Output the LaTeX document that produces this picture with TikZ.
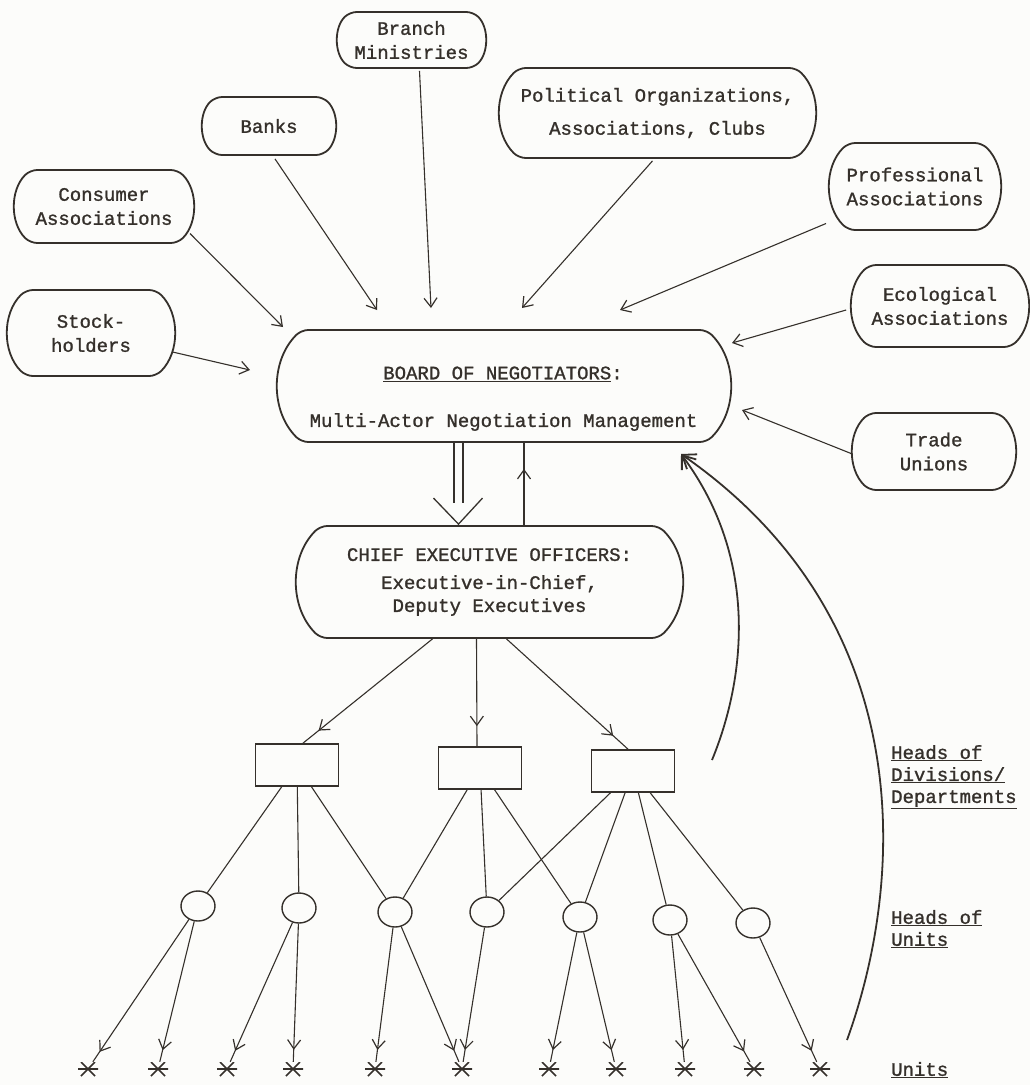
\documentclass[tikz,border=0pt]{standalone}
\usepackage{fontspec}
\setmonofont[FakeBold=1.2]{Liberation Mono}
\usetikzlibrary{shapes.misc,shapes.geometric,arrows.meta,decorations.markings,calc}
\definecolor{ink}{HTML}{35302B}
\definecolor{paper}{HTML}{FCFCFA}
\begin{document}
\begin{tikzpicture}[x=1pt,y=-1pt,
  every node/.style={text=ink},
  tw/.style={font=\ttfamily\fontsize{19}{24}\selectfont, align=center},
  obox/.style={tw, draw=ink, line width=1.8pt, rounded rectangle, rounded rectangle arc length=90, rounded corners=7pt, inner sep=0pt},
  rbox/.style={draw=ink, line width=1.7pt, rectangle, minimum width=83pt, minimum height=42pt, inner sep=0pt},
  hcirc/.style={draw=ink, line width=1.4pt, ellipse, minimum width=34pt, minimum height=30pt, inner sep=0pt},
  ustar/.style={minimum width=20pt, minimum height=14pt, inner sep=0pt,
    path picture={\draw[ink, line width=1.7pt]
      (path picture bounding box.west) -- (path picture bounding box.east)
      ([xshift=3pt]path picture bounding box.north west) -- ([xshift=-3pt]path picture bounding box.south east)
      ([xshift=-3pt]path picture bounding box.north east) -- ([xshift=3pt]path picture bounding box.south west);}},
  conn/.style={draw=ink, line width=1.1pt},
  tipped/.style={conn, -{Straight Barb[length=9pt,width=13pt,line width=1.2pt]}},
  midtip/.style={conn, postaction={decorate}, decoration={markings, mark=at position #1 with {\arrow[line width=1.2pt]{Straight Barb[length=9pt,width=13pt]}}}},
  fb/.style={draw=ink, line width=1.8pt, -{Straight Barb[length=12pt,width=18pt]}},
  lbl/.style={font=\ttfamily\fontsize{19}{22}\selectfont, align=left, anchor=west, inner sep=0pt}
]
\fill[paper] (0,0) rectangle (1030,1085);
\useasboundingbox (0,0) rectangle (1030,1085);

% outer actors
\node[obox, minimum width=147pt, minimum height=56pt] (branch) at (411.5,40) {Branch\\Ministries};
\node[obox, minimum width=132pt, minimum height=58pt] (banks) at (269,126) {Banks};
\node[obox, minimum width=315pt, minimum height=90pt] (pol) at (657.5,113) {Political Organizations,\\[9pt]Associations, Clubs};
\node[obox, minimum width=178pt, minimum height=73pt] (cons) at (104,206.5) {Consumer\\Associations};
\node[obox, minimum width=170pt, minimum height=87pt] (prof) at (915,186.5) {Professional\\Associations};
\node[obox, minimum width=166pt, minimum height=86pt] (stock) at (91,333) {Stock-\\holders};
\node[obox, minimum width=176pt, minimum height=82pt] (ecol) at (940,306) {Ecological\\Associations};
\node[obox, minimum width=162pt, minimum height=77pt] (trade) at (934,451.5) {Trade\\Unions};

% board and CEO
\node[obox, minimum width=452pt, minimum height=112pt] (board) at (504,386) {};
\node[tw] (boardtitle) at (503,374) {\underline{BOARD OF NEGOTIATORS}:};
\node[tw] (boardsub) at (503.5,422) {Multi-Actor Negotiation Management};
\node[obox, minimum width=385pt, minimum height=112pt] (ceo) at (489.5,582) {CHIEF EXECUTIVE OFFICERS:\\[4pt]Executive-in-Chief,\\[-1pt]Deputy Executives};

% divisions
\node[rbox] (r1) at (297,765) {};
\node[rbox] (r2) at (480,768) {};
\node[rbox] (r3) at (633,771) {};

% unit heads
\node[hcirc] (c1) at (198,906) {};
\node[hcirc] (c2) at (299,908) {};
\node[hcirc] (c3) at (395,912) {};
\node[hcirc] (c4) at (487,912) {};
\node[hcirc] (c5) at (580,917) {};
\node[hcirc] (c6) at (670,920) {};
\node[hcirc] (c7) at (753,923) {};

% units
\foreach \i/\x in {1/88,2/158,3/227,4/293,5/375,6/462,7/549,8/616,9/685,10/754,11/820}
  \node[ustar] (s\i) at (\x,1069) {};

% labels
\node[lbl] (hdiv) at (891,777) {\underline{Heads of}\\\underline{Divisions/}\\\underline{Departments}};
\node[lbl] (hunit) at (891,929) {\underline{Heads of}\\\underline{Units}};
\node[lbl] (units) at (891,1070) {\underline{Units}};

% free ends near the board
\coordinate (tStock) at (250,370);
\coordinate (tCons) at (283,327);
\coordinate (tBanks) at (377,310);
\coordinate (tBranch) at (431,308);
\coordinate (tPol) at (522,308);
\coordinate (tProf) at (620,310);
\coordinate (tEcol) at (732,343);
\coordinate (tTrade) at (742,410);

\draw[tipped] (stock) -- (tStock);
\draw[tipped] ($(cons.center)+(86,27)$) -- (tCons);
\draw[tipped] ($(banks.south)+(6,3)$) -- (tBanks);
\draw[tipped] ($(branch.south)+(8,2)$) -- (tBranch);
\draw[tipped] ($(pol.south)+(-5,2)$) -- (tPol);
\draw[tipped] ($(prof.center)+(-89,37)$) -- (tProf);
\draw[tipped] ($(ecol.west)+(-5,4)$) -- (tEcol);
\draw[tipped] ($(trade.west)+(-1,2)$) -- (tTrade);

% board -> CEO double arrow
\draw[conn, line width=1.3pt] ($(board.south)+(-50,0)$) -- ($(board.south)+(-50,60)$);
\draw[conn, line width=1.3pt] ($(board.south)+(-41,0)$) -- ($(board.south)+(-41,60)$);
\draw[conn, line width=1.3pt, line join=miter] ($(ceo.north)+(-56,-27)$) -- ($(ceo.north)+(-31,-1)$) -- ($(ceo.north)+(-7,-27)$);

% CEO -> board
\coordinate (upS) at ($(ceo.north)+(34.5,0)$);
\draw[midtip=-26pt] (upS) -- (upS |- board.south);

% CEO -> divisions
\draw[midtip=-20pt] ($(ceo.south)+(-57,0)$) -- ($(r1.north)+(6,0)$);
\draw[midtip=-20pt] ($(ceo.south)+(-13,0)$) -- ($(r2.north)+(-3,0)$);
\draw[midtip=-20pt] ($(ceo.south)+(17,0)$) -- ($(r3.north)+(-5,0)$);

% divisions -> unit heads
\draw[conn] (r1) -- (c1);
\draw[conn] (r1) -- (c2);
\draw[conn] (r1) -- (c3);
\draw[conn] (r2) -- (c3);
\draw[conn] (r2) -- (c4);
\draw[conn] (r2) -- (c5);
\draw[conn] (r3) -- (c4);
\draw[conn] (r3) -- (c5);
\draw[conn] (r3) -- (c6);
\draw[conn] (r3) -- (c7);

% unit heads -> units
\draw[midtip=-12pt] (c1) -- (s1);
\draw[midtip=-12pt] (c1) -- (s2);
\draw[midtip=-12pt] (c2) -- (s3);
\draw[midtip=-12pt] (c2) -- (s4);
\draw[midtip=-12pt] (c3) -- (s5);
\draw[midtip=-12pt] (c3) -- (s6);
\draw[midtip=-12pt] (c4) -- (s6);
\draw[midtip=-12pt] (c5) -- (s7);
\draw[midtip=-12pt] (c5) -- (s8);
\draw[midtip=-12pt] (c6) -- (s9);
\draw[midtip=-12pt] (c6) -- (s10);
\draw[midtip=-12pt] (c7) -- (s11);

% feedback curves
\coordinate (fbA) at (712,760);
\coordinate (fbB) at (847,1040);
\coordinate (fbTip) at (681,454);
\draw[fb] (fbA) .. controls (745,680) and (760,560) .. (fbTip);
\draw[fb] (fbB) .. controls (905,880) and (920,620) .. (fbTip);
\end{tikzpicture}
\end{document}
